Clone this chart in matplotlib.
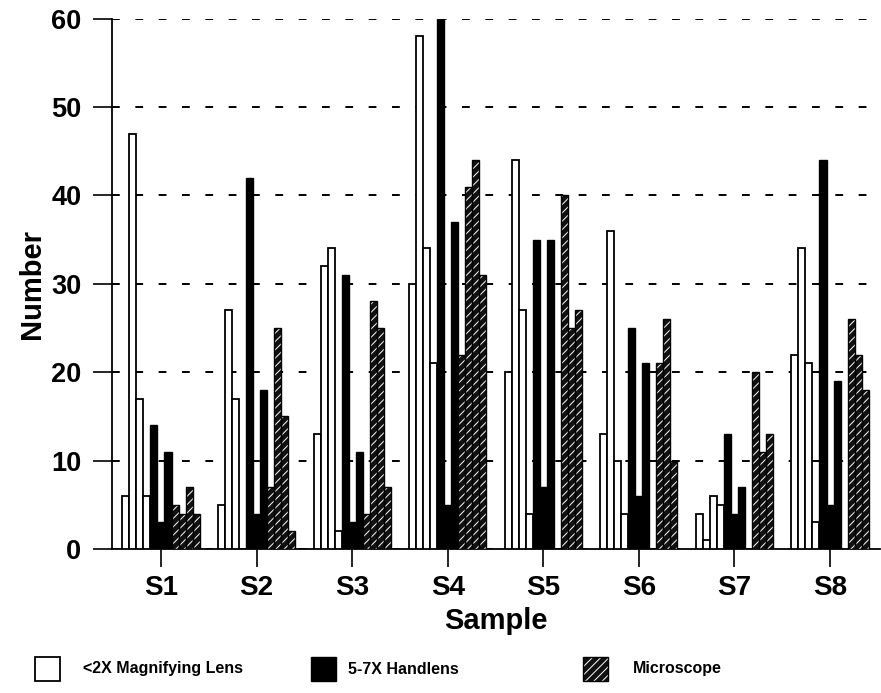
import matplotlib
matplotlib.use("Agg")
import matplotlib.pyplot as plt
from matplotlib.patches import Rectangle
import numpy as np

plt.rcParams['font.family'] = ['Liberation Sans', 'DejaVu Sans']
plt.rcParams['font.weight'] = 'bold'
plt.rcParams['hatch.linewidth'] = 0.7

samples = ["S1", "S2", "S3", "S4", "S5", "S6", "S7", "S8"]
# four replicate bars per sample for each method
lens = [[6, 47, 17, 6], [5, 27, 17, 0], [13, 32, 34, 2], [30, 58, 34, 21],
        [20, 44, 27, 4], [13, 36, 10, 4], [4, 1, 6, 5], [22, 34, 21, 3]]
handlens = [[14, 3, 11], [42, 4, 18], [31, 3, 11], [60, 5, 37],
            [35, 7, 35], [25, 6, 21], [13, 4, 7], [44, 5, 19]]
microscope = [[5, 4, 7, 4], [7, 25, 15, 2], [4, 28, 25, 7], [22, 41, 44, 31],
              [0, 40, 25, 27], [0, 21, 26, 10], [0, 20, 11, 13], [0, 26, 22, 18]]
legend_labels = ["<2X Magnifying Lens", "5-7X Handlens", "Microscope"]
y_ticks = [0, 10, 20, 30, 40, 50, 60]

W, H = 881, 693
fig = plt.figure(figsize=(W / 100, H / 100), dpi=100)
ax = fig.add_axes([112 / W, 1 - 549 / H, (880 - 112) / W, (549 - 18.6) / H])

x = np.arange(1, len(samples) + 1)
bw = 0.0735
n_bars = 11
HATCH_FACE = '#111111'

for gi, xc in enumerate(x):
    vals = lens[gi] + handlens[gi] + microscope[gi]
    kinds = ['w'] * len(lens[gi]) + ['k'] * len(handlens[gi]) + ['h'] * len(microscope[gi])
    for bi, (v, kd) in enumerate(zip(vals, kinds)):
        pos = xc + (bi - (n_bars - 1) / 2) * bw
        if kd == 'w':
            ax.bar(pos, v, width=bw, facecolor='white', edgecolor='black', linewidth=1.3, zorder=3)
        elif kd == 'k':
            ax.bar(pos, v, width=bw, facecolor='black', edgecolor='black', linewidth=1.0, zorder=3)
        else:
            ax.bar(pos, v, width=bw, facecolor=HATCH_FACE, edgecolor='white', hatch='////', linewidth=0, zorder=3)
            ax.bar(pos, v, width=bw, fill=False, edgecolor='black', linewidth=1.0, zorder=4)

ax.set_xlim(1 - (161 - 112) / 95.6, 8 + (880 - 830) / 95.6)
ax.set_ylim(0, 60)
ax.set_yticks(y_ticks)
ax.set_xticks(x)
ax.set_xticklabels(samples, fontsize=20, fontweight='bold')
ax.set_yticklabels([str(t) for t in y_ticks], fontsize=19.5, fontweight='bold')
ax.tick_params(axis='y', direction='out', length=14, width=1.2, pad=8)
ax.tick_params(axis='x', direction='out', length=13, width=1.2, pad=6)
for s in ['top', 'right']:
    ax.spines[s].set_visible(False)
ax.spines['left'].set_linewidth(1.3)
ax.spines['bottom'].set_linewidth(1.3)
ax.yaxis.grid(True, linestyle=(0, (4, 8)), color='black', linewidth=1.4, zorder=0)
ax.set_axisbelow(True)
ax.set_ylabel("Number", fontsize=21, fontweight='bold', labelpad=4)
ax.set_xlabel("Sample", fontsize=21, fontweight='bold', labelpad=4)

# legend drawn below the plot
def fx(px):
    return px / W

def fy(py):
    return 1 - py / H

box_w, box_h = 25 / W, 24 / H
legend_items = [(35, 83, 'w'), (311, 348, 'k'), (583, 633, 'h')]
for (bx, tx, kd), lab in zip(legend_items, legend_labels):
    y0 = fy(681)
    if kd == 'w':
        fig.patches.append(Rectangle((fx(bx), y0), box_w, box_h, transform=fig.transFigure,
                                     facecolor='white', edgecolor='black', linewidth=1.3))
    elif kd == 'k':
        fig.patches.append(Rectangle((fx(bx), y0), box_w, box_h, transform=fig.transFigure,
                                     facecolor='black', edgecolor='black', linewidth=1.0))
    else:
        fig.patches.append(Rectangle((fx(bx), y0), box_w, box_h, transform=fig.transFigure,
                                     facecolor=HATCH_FACE, edgecolor='white', hatch='////', linewidth=0))
        fig.patches.append(Rectangle((fx(bx), y0), box_w, box_h, transform=fig.transFigure,
                                     fill=False, edgecolor='black', linewidth=1.0))
    fig.text(fx(tx), fy(669), lab, fontsize=11.5, fontweight='bold', va='center', ha='left')

fig.savefig("out.png", dpi=100)
